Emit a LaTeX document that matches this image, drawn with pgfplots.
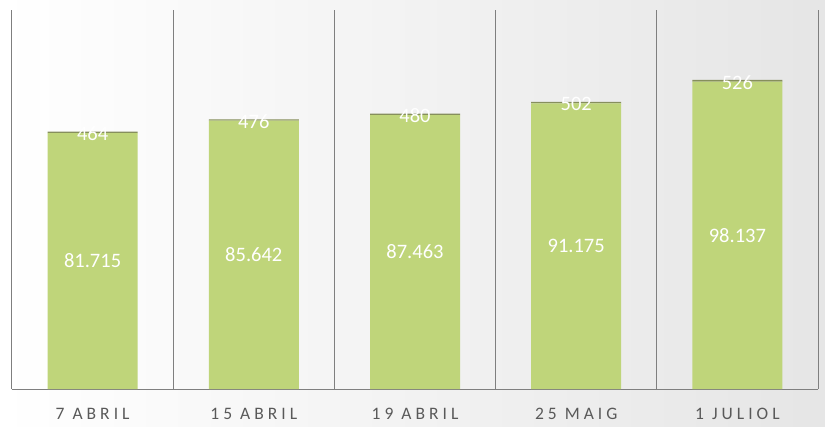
\documentclass[border=0pt]{standalone}
\usepackage{pgfplots}
\pgfplotsset{compat=1.18}
\usepackage{fontspec}
\setmainfont{Carlito}
\definecolor{barg}{HTML}{BFD57A}
\definecolor{bartop}{HTML}{868F5C}
\definecolor{gridc}{HTML}{7F7F7F}
\definecolor{tickc}{HTML}{595959}
\begin{document}
\begin{tikzpicture}[x=1pt,y=1pt]
\shade[left color=white, right color=black!10] (0,0) rectangle (825,426);
\begin{axis}[
  at={(12pt,37pt)}, anchor=south west,
  scale only axis, width=806pt, height=379pt,
  ybar stacked, bar width=90pt,
  xmin=-0.5, xmax=4.5, ymin=0, ymax=121,
  axis x line*=bottom, axis y line=none,
  x axis line style={gridc, line width=1pt, -},
  xtick={0,1,2,3,4},
  xticklabels={7 ABRIL,15 ABRIL,19 ABRIL,25 MAIG,1 JULIOL},
  major tick length=0pt,
  minor xtick={-0.5,0.5,1.5,2.5,3.5,4.5},
  minor tick length=0pt,
  xminorgrids, minor grid style={gridc, line width=1pt},
  xticklabel style={font=\fontsize{17.5}{20}\selectfont\addfontfeature{LetterSpace=23}, text=tickc, anchor=center, yshift=-25pt},
  clip=false,
]
\addplot[fill=barg, draw=none,
  point meta=explicit symbolic,
  nodes near coords={\pgfplotspointmeta},
  every node near coord/.style={anchor=center, text=white, font=\fontsize{20.5}{24}\selectfont},
] coordinates {(0,81.715) [81.715] (1,85.642) [85.642] (2,87.463) [87.463] (3,91.175) [91.175] (4,98.137) [98.137]};
\addplot[fill=bartop, draw=none,
  point meta=explicit symbolic,
  nodes near coords={\pgfplotspointmeta},
  every node near coord/.style={anchor=center, text=white, font=\fontsize{20.5}{24}\selectfont, yshift=-1.5pt},
] coordinates {(0,0.464) [464] (1,0.476) [476] (2,0.480) [480] (3,0.502) [502] (4,0.526) [526]};
\end{axis}
\end{tikzpicture}
\end{document}
